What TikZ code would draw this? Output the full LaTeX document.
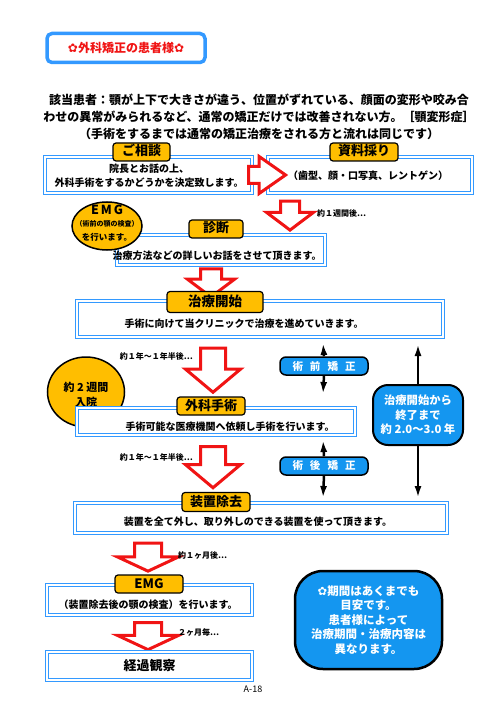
\documentclass[tikz,border=0pt]{standalone}
\usepackage{fontspec}
\setmainfont{Noto Sans CJK JP}
\newfontfamily\symfont{DejaVu Sans}
\usepackage{xcolor}
\usepackage{tikz}
\usetikzlibrary{arrows.meta,shapes.arrows,shapes.geometric}

\definecolor{panelblue}{RGB}{51,153,255}
\definecolor{tagyellow}{RGB}{255,190,0}
\definecolor{noteblue}{RGB}{20,150,240}
\definecolor{flowred}{RGB}{240,20,20}

\begin{document}
\begin{tikzpicture}[
    x=1pt,y=-1pt,
    panel/.style={draw=panelblue, double=white, line width=1pt, double distance=1.2pt, fill=white},
    tag/.style={draw, line width=1.2pt, rounded corners=3pt, fill=tagyellow, inner sep=0pt,
                text height=9.5pt, text depth=1.5pt, font=\fontsize{13}{13}\selectfont\bfseries},
    body/.style={font=\fontsize{10}{14.5}\selectfont\bfseries, align=center, inner sep=0pt},
    hint/.style={font=\fontsize{8}{8}\selectfont\bfseries, inner sep=0pt},
    flow/.style={single arrow, draw=flowred, line width=3pt, fill=white, inner xsep=0pt,
                 single arrow head indent=0pt},
    chip/.style={draw, line width=1.5pt, rounded corners=6pt, fill=noteblue, text=white,
                 font=\fontsize{10.5}{10.5}\selectfont\bfseries, minimum width=88, minimum height=18, inner sep=0pt},
    bubble/.style={draw, line width=1.5pt, fill=tagyellow, ellipse, inner sep=0pt, align=center},
    a/.style={-{Latex[length=12pt,width=7pt]}, line width=2.5pt}
]
\useasboundingbox (0,0) rectangle (500,708);

% Title and introduction
\node[draw=panelblue, line width=3.5pt, rounded corners=5pt, fill=white, minimum width=158, minimum height=29,
      text=flowred, font=\fontsize{12}{12}\selectfont\bfseries] (title) at (126,48)
      {{\symfont ✿}外科矯正の患者様{\symfont ✿}};
\node[font=\fontsize{12}{17}\selectfont\bfseries, align=center, inner sep=0pt] (intro) at (259,117)
      {該当患者：顎が上下で大きさが違う、位置がずれている、顔面の変形や咬み合\\
       わせの異常がみられるなど、通常の矯正だけでは改善されない方。［顎変形症］\\
       （手術をするまでは通常の矯正治療をされる方と流れは同じです）};

% Consultation and records
\node[panel, minimum width=207, minimum height=36] (talk) at (148.5,175) {};
\node[body] at (149,176) {院長とお話の上、\\外科手術をするかどうかを決定致します。};
\node[tag, minimum width=57, minimum height=18] (talkTag) at (141.5,152) {ご相談};
\node[panel, minimum width=204, minimum height=36] (data) at (370,175) {};
\node[body] at (368,176) {（歯型、顔・口写真、レントゲン）};
\node[tag, minimum width=68, minimum height=18] (dataTag) at (364,152) {資料採り};
\node[flow, minimum height=37, inner ysep=7pt, single arrow head extend=10pt,
      single arrow tip angle=70] (toData) at (261,175) {};

% Diagnosis
\node[flow, rotate=-90, minimum height=29, inner ysep=8pt, single arrow head extend=14pt,
      single arrow tip angle=106] (down1) at (290,212) {};
\node[hint, anchor=west] at (317,213) {約１週間後…};
\node[panel, minimum width=208, minimum height=30] (diag) at (221,250) {};
\node[body] at (217,256) {治療方法などの詳しいお話をさせて頂きます。};
\node[tag, minimum width=54, minimum height=18] (diagTag) at (216,229) {診断};
\node[bubble, minimum width=70, minimum height=48] (emgA) at (107,226) {};
\node[font=\fontsize{12.5}{12.5}\selectfont\bfseries] at (107,210) {E\hspace{2pt}M\hspace{2pt}G};
\node[font=\fontsize{7}{7}\selectfont\bfseries] at (107,224) {（術前の顎の検査）};
\node[font=\fontsize{8.5}{8.5}\selectfont\bfseries] at (107,237) {を行います。};

% Treatment start
\node[flow, rotate=-90, minimum height=28, inner ysep=9pt, single arrow head extend=13pt,
      single arrow tip angle=106] (down2) at (211,279) {};
\node[panel, minimum width=366, minimum height=36] (start) at (260,319) {};
\node[body] at (244,324) {手術に向けて当クリニックで治療を進めていきます。};
\node[tag, minimum width=96, minimum height=21, text height=10pt, font=\fontsize{13.5}{13.5}\selectfont\bfseries] (startTag) at (215,302) {治療開始};

% Surgery
\node[flow, rotate=-90, minimum height=44, inner ysep=11pt, single arrow head extend=15pt,
      single arrow tip angle=100] (down3) at (213,365) {};
\node[hint, anchor=east] at (193,356) {約１年～１年半後…};
\node[bubble, minimum width=77, minimum height=70] (stay) at (86,392) {};
\node[font=\fontsize{11}{15}\selectfont\bfseries, align=center] at (86,395) {約 2 週間\\入院};
\node[panel, minimum width=278, minimum height=27] (surg) at (216,421.5) {};
\node[body] at (230,427) {手術可能な医療機関へ依頼し手術を行います。};
\node[tag, minimum width=68, minimum height=18] (surgTag) at (211,406) {外科手術};

% Orthodontics before and after surgery
\coordinate (preTop) at (323,343);
\coordinate (preBot) at (323,394);
\node[chip] (pre) at (324,366) {術\hspace{7pt}前\hspace{7pt}矯\hspace{7pt}正};
\draw[a] (pre.north) -- (preTop);
\draw[a] (pre.south) -- (preBot);
\coordinate (postTop) at (323,440);
\coordinate (postBot) at (323,498);
\node[chip] (post) at (324,466) {術\hspace{7pt}後\hspace{7pt}矯\hspace{7pt}正};
\draw[a] (post.north) -- (postTop);
\draw[a] (post.south) -- (postBot);

% Whole period
\node[draw, line width=2pt, rounded corners=15pt, fill=noteblue, text=white, align=center,
      minimum width=90, minimum height=60, inner sep=0pt,
      font=\fontsize{11.3}{14.5}\selectfont\bfseries] (period) at (418,415)
      {治療開始から\\終了まで\\約 2.0～3.0 年};
\coordinate (periodTop) at (418,344);
\coordinate (periodBot) at (418,498);
\draw[a] (period.north) -- (periodTop);
\draw[a] (period.south) -- (periodBot);

% Removal of appliance
\node[flow, rotate=-90, minimum height=41, inner ysep=11pt, single arrow head extend=15pt,
      single arrow tip angle=100] (down4) at (213,462) {};
\node[hint, anchor=east] at (193,457) {約１年～１年半後…};
\node[panel, minimum width=372, minimum height=30] (remove) at (261,518) {};
\node[body] at (258,522) {装置を全て外し、取り外しのできる装置を使って頂きます。};
\node[tag, minimum width=68, minimum height=19] (removeTag) at (216,502) {装置除去};

% EMG and follow-up
\node[flow, rotate=-90, minimum height=28, inner ysep=12pt, single arrow head extend=17pt,
      single arrow tip angle=130] (down5) at (148,554) {};
\node[hint, anchor=west] at (178,555) {約１ヶ月後…};
\node[panel, minimum width=205, minimum height=30] (emgB) at (149.5,600) {};
\node[body] at (148,605) {（装置除去後の顎の検査）を行います。};
\node[tag, minimum width=68, minimum height=18] (emgTag) at (149,584) {EMG};
\node[flow, rotate=-90, minimum height=27, inner ysep=12pt, single arrow head extend=17pt,
      single arrow tip angle=130] (down6) at (148,633) {};
\node[hint, anchor=west] at (178,632) {２ヶ月毎…};
\node[panel, minimum width=205, minimum height=28, font=\fontsize{13}{13}\selectfont\bfseries] (watch) at (149.5,666) {経過観察};

% Note
\node[draw, line width=2.5pt, rounded corners=28pt, fill=noteblue, text=white, align=center,
      minimum width=147, minimum height=98, inner sep=0pt,
      font=\fontsize{11.5}{14.5}\selectfont\bfseries] (note) at (368.5,620)
      {{\symfont ✿}期間はあくまでも\\目安です。\\患者様によって\\治療期間・治療内容は\\異なります。};

\node[font=\fontsize{9}{9}\selectfont] (page) at (253,689) {A-18};
\end{tikzpicture}
\end{document}
